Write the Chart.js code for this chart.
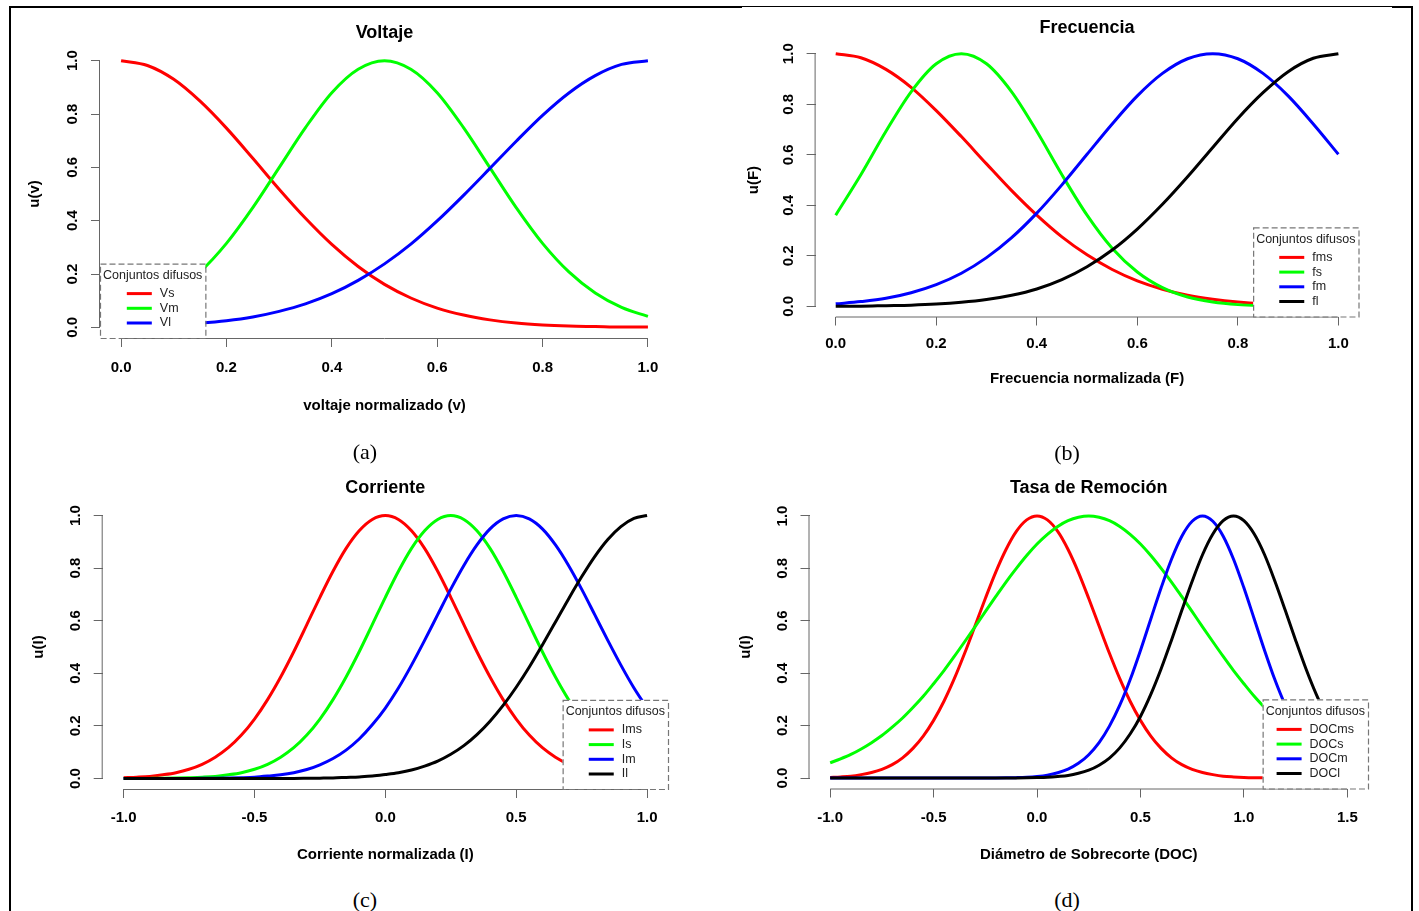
<!DOCTYPE html>
<html>
<head>
<meta charset="utf-8">
<title>Conjuntos difusos</title>
<script src="https://cdn.jsdelivr.net/npm/chart.js@4.4.1/dist/chart.umd.min.js"></script>
<style>
body { margin: 0; background: #fff; }
#page { position: relative; width: 1419px; height: 911px; overflow: hidden; background: #fff; }
canvas { position: absolute; }
.rule { position: absolute; background: #000; }
.caption { position: absolute; width: 80px; text-align: center; font: 22px "Liberation Serif", "Times New Roman", serif; line-height: 24px; color: #000; }
</style>
</head>
<body>
<div id="page">
  <div class="rule" style="left:9px;top:6px;width:2px;height:905px"></div>
  <div class="rule" style="left:9px;top:6px;width:733px;height:2px"></div>
  <div class="rule" style="left:742px;top:6px;width:650px;height:1px"></div>
  <div class="rule" style="left:1392px;top:6px;width:21px;height:2px"></div>
  <div class="rule" style="left:1411px;top:6px;width:2px;height:905px"></div>

  <canvas id="chartVolt" width="690" height="425" style="left:12px;top:0px"></canvas>
  <canvas id="chartFrec" width="690" height="395" style="left:715px;top:0px"></canvas>
  <canvas id="chartCorr" width="690" height="410" style="left:12px;top:460px"></canvas>
  <canvas id="chartDoc" width="690" height="410" style="left:715px;top:460px"></canvas>

  <div class="caption" style="left:325px;top:440px">(a)</div>
  <div class="caption" style="left:1027px;top:441px">(b)</div>
  <div class="caption" style="left:325px;top:888px">(c)</div>
  <div class="caption" style="left:1027px;top:888px">(d)</div>
</div>
<script>
// ticks del eje u(x), igual en los cuatro paneles
const yTicks = [0, 0.2, 0.4, 0.6, 0.8, 1.0];

// (a) Voltaje y (b) Frecuencia: eje normalizado 0..1
const xNorm = [0, 0.05, 0.1, 0.15, 0.2, 0.25, 0.3, 0.35, 0.4, 0.45, 0.5, 0.55, 0.6, 0.65, 0.7, 0.75, 0.8, 0.85, 0.9, 0.95, 1];
const normTicks = [0, 0.2, 0.4, 0.6, 0.8, 1.0];

const vs = [1, 0.982, 0.930, 0.848, 0.747, 0.634, 0.518, 0.409, 0.311, 0.228, 0.161, 0.110, 0.072, 0.046, 0.028, 0.016, 0.009, 0.005, 0.003, 0.001, 0.001];
const vm = [0.041, 0.075, 0.129, 0.208, 0.315, 0.449, 0.599, 0.749, 0.880, 0.968, 1, 0.968, 0.880, 0.749, 0.599, 0.449, 0.315, 0.208, 0.129, 0.075, 0.041];
const vl = [0.003, 0.006, 0.010, 0.016, 0.025, 0.039, 0.060, 0.088, 0.126, 0.176, 0.238, 0.312, 0.399, 0.495, 0.596, 0.698, 0.795, 0.879, 0.944, 0.986, 1];

const fms = [1, 0.984, 0.938, 0.867, 0.775, 0.672, 0.564, 0.458, 0.361, 0.275, 0.204, 0.146, 0.101, 0.068, 0.044, 0.028, 0.017, 0.010, 0.006, 0.003, 0.002];
const fs = [0.361, 0.521, 0.693, 0.849, 0.960, 1, 0.960, 0.849, 0.693, 0.521, 0.361, 0.230, 0.136, 0.074, 0.037, 0.017, 0.007, 0.003, 0.001, 0.0003, 0.0001];
const fm = [0.010, 0.019, 0.032, 0.054, 0.086, 0.131, 0.193, 0.272, 0.369, 0.481, 0.602, 0.722, 0.833, 0.922, 0.980, 1, 0.980, 0.922, 0.833, 0.722, 0.602];
const fl = [0.001, 0.001, 0.003, 0.005, 0.009, 0.016, 0.027, 0.044, 0.069, 0.106, 0.157, 0.223, 0.306, 0.404, 0.513, 0.629, 0.744, 0.846, 0.929, 0.982, 1];

// (c) Corriente: -1..1
const xCorr = [-1, -0.95, -0.9, -0.85, -0.8, -0.75, -0.7, -0.65, -0.6, -0.55, -0.5, -0.45, -0.4, -0.35, -0.3, -0.25, -0.2, -0.15, -0.1, -0.05,
  0, 0.05, 0.1, 0.15, 0.2, 0.25, 0.3, 0.35, 0.4, 0.45, 0.5, 0.55, 0.6, 0.65, 0.7, 0.75, 0.8, 0.85, 0.9, 0.95, 1];
const corrTicks = [-1.0, -0.5, 0.0, 0.5, 1.0];

const ims = [0.003, 0.005, 0.008, 0.014, 0.022, 0.035, 0.054, 0.081, 0.117, 0.165, 0.226, 0.300, 0.386, 0.482, 0.585, 0.689, 0.788, 0.875, 0.942, 0.985,
  1, 0.985, 0.942, 0.875, 0.788, 0.689, 0.585, 0.482, 0.386, 0.300, 0.226, 0.165, 0.117, 0.081, 0.054, 0.035, 0.022, 0.014, 0.008, 0.005, 0.003];
const is = [0.0001, 0.0002, 0.0004, 0.0007, 0.0014, 0.003, 0.005, 0.008, 0.014, 0.022, 0.035, 0.054, 0.081, 0.117, 0.165, 0.226, 0.300, 0.386, 0.482, 0.585,
  0.689, 0.788, 0.875, 0.942, 0.985, 1, 0.985, 0.942, 0.875, 0.788, 0.689, 0.585, 0.482, 0.386, 0.300, 0.226, 0.165, 0.117, 0.081, 0.054, 0.035];
const im = [0, 0, 0, 0.0001, 0.0001, 0.0003, 0.0005, 0.0009, 0.0017, 0.003, 0.005, 0.009, 0.014, 0.022, 0.034, 0.052, 0.076, 0.108, 0.150, 0.204,
  0.268, 0.344, 0.431, 0.525, 0.623, 0.720, 0.810, 0.888, 0.949, 0.987, 1, 0.987, 0.949, 0.888, 0.810, 0.720, 0.623, 0.525, 0.431, 0.344, 0.268];
const il = [0, 0, 0, 0, 0, 0, 0, 0, 0, 0, 0.0001, 0.0001, 0.0002, 0.0004, 0.0008, 0.0013, 0.002, 0.004, 0.006, 0.009,
  0.015, 0.022, 0.032, 0.047, 0.066, 0.092, 0.125, 0.167, 0.218, 0.278, 0.347, 0.424, 0.508, 0.595, 0.683, 0.767, 0.844, 0.909, 0.958, 0.989, 1];

// (d) Tasa de Remoción: -1..1.5
const xDoc = [-1, -0.95, -0.9, -0.85, -0.8, -0.75, -0.7, -0.65, -0.6, -0.55, -0.5, -0.45, -0.4, -0.35, -0.3, -0.25, -0.2, -0.15, -0.1, -0.05,
  0, 0.05, 0.1, 0.15, 0.2, 0.25, 0.3, 0.35, 0.4, 0.45, 0.5, 0.55, 0.6, 0.65, 0.7, 0.75, 0.8, 0.85, 0.9, 0.95,
  1, 1.05, 1.1, 1.15, 1.2, 1.25, 1.3, 1.35, 1.4, 1.45, 1.5];
const docTicks = [-1.0, -0.5, 0.0, 0.5, 1.0, 1.5];

const docms = [0.002, 0.004, 0.007, 0.013, 0.021, 0.033, 0.051, 0.077, 0.113, 0.160, 0.220, 0.293, 0.379, 0.476, 0.580, 0.685, 0.785, 0.872, 0.941, 0.985,
  1, 0.985, 0.941, 0.872, 0.785, 0.685, 0.580, 0.476, 0.379, 0.293, 0.220, 0.160, 0.113, 0.077, 0.051, 0.033, 0.021, 0.013, 0.007, 0.004,
  0.002, 0.001, 0.0007, 0.0003, 0.0002, 0.0001, 0, 0, 0, 0, 0];
const docs = [0.058, 0.073, 0.090, 0.111, 0.135, 0.162, 0.194, 0.229, 0.269, 0.312, 0.360, 0.410, 0.464, 0.520, 0.577, 0.635, 0.692, 0.748, 0.800, 0.849,
  0.893, 0.930, 0.960, 0.982, 0.995, 1, 0.995, 0.982, 0.960, 0.930, 0.893, 0.849, 0.800, 0.748, 0.692, 0.635, 0.577, 0.520, 0.464, 0.410,
  0.360, 0.312, 0.269, 0.229, 0.194, 0.162, 0.135, 0.111, 0.090, 0.073, 0.058];
const docm = [0, 0, 0, 0, 0, 0, 0, 0, 0, 0, 0, 0, 0, 0, 0, 0.0001, 0.0003, 0.0007, 0.0015, 0.003,
  0.006, 0.011, 0.020, 0.034, 0.056, 0.089, 0.135, 0.198, 0.278, 0.375, 0.487, 0.607, 0.726, 0.835, 0.923, 0.980, 1, 0.980, 0.923, 0.835,
  0.726, 0.607, 0.487, 0.375, 0.278, 0.198, 0.135, 0.089, 0.056, 0.034, 0.020];
const docl = [0, 0, 0, 0, 0, 0, 0, 0, 0, 0, 0, 0, 0, 0, 0, 0, 0, 0.0002, 0.0004, 0.0008,
  0.0016, 0.003, 0.006, 0.010, 0.018, 0.030, 0.049, 0.076, 0.115, 0.168, 0.235, 0.319, 0.417, 0.526, 0.640, 0.751, 0.852, 0.931, 0.982, 1,
  0.982, 0.931, 0.852, 0.751, 0.640, 0.526, 0.417, 0.319, 0.235, 0.168, 0.115];

const colores = ['#ff0000', '#00ff00', '#0000ff', '#000000'];

Chart.defaults.font.family = '"Liberation Sans", Arial, sans-serif';
Chart.defaults.color = '#000';

// ejes estilo R: la linea solo va del primer al ultimo tick, etiquetas del eje y giradas
const ejesR = {
  id: 'ejesR',
  beforeDatasetsDraw(chart) {
    const {ctx, chartArea, scales} = chart;
    const xs = scales.x.ticks.map(t => scales.x.getPixelForValue(t.value));
    const ys = scales.y.ticks.map(t => scales.y.getPixelForValue(t.value));
    ctx.save();
    ctx.strokeStyle = '#666';
    ctx.lineWidth = 1;
    ctx.beginPath();
    ctx.moveTo(xs[0], chartArea.bottom + 0.5);
    ctx.lineTo(xs[xs.length - 1], chartArea.bottom + 0.5);
    ctx.moveTo(chartArea.left - 0.5, ys[0]);
    ctx.lineTo(chartArea.left - 0.5, ys[ys.length - 1]);
    ctx.stroke();

    ctx.fillStyle = '#000';
    ctx.font = 'bold 15px "Liberation Sans", Arial, sans-serif';
    ctx.textAlign = 'center';
    ctx.textBaseline = 'middle';
    scales.y.ticks.forEach((t, i) => {
      ctx.save();
      ctx.translate(chartArea.left - 27, ys[i]);
      ctx.rotate(-Math.PI / 2);
      ctx.fillText(t.value.toFixed(1), 0, 0);
      ctx.restore();
    });
    ctx.restore();
  }
};

// leyenda "Conjuntos difusos" en una esquina del area de trazado
const conjuntos = {
  id: 'conjuntos',
  afterDatasetsDraw(chart, args, opts) {
    const {ctx, chartArea} = chart;
    const sets = chart.data.datasets;
    ctx.save();
    ctx.font = '12.5px "Liberation Sans", Arial, sans-serif';
    const titleW = ctx.measureText(opts.title).width;
    const labelW = Math.max(...sets.map(d => ctx.measureText(d.label).width));
    const blockW = 25 + 8 + labelW;
    const w = Math.max(titleW, blockW) + 6;
    const h = 30 + (sets.length - 1) * 14.7 + 15;
    const x = opts.side === 'left' ? chartArea.left : chartArea.right - w;
    const y = chartArea.bottom - h;

    ctx.fillStyle = '#fff';
    ctx.fillRect(x, y, w, h);
    ctx.strokeStyle = '#777';
    ctx.lineWidth = 1.2;
    ctx.setLineDash([6, 3]);
    ctx.strokeRect(x + 0.5, y + 0.5, w, h);
    ctx.setLineDash([]);

    ctx.fillStyle = '#222';
    ctx.textBaseline = 'middle';
    ctx.textAlign = 'center';
    ctx.fillText(opts.title, x + w / 2, y + 12);

    const bx = x + (w - blockW) / 2;
    ctx.textAlign = 'left';
    ctx.lineWidth = 3;
    sets.forEach((d, i) => {
      const ry = y + 30 + i * 14.7;
      ctx.strokeStyle = d.borderColor;
      ctx.beginPath();
      ctx.moveTo(bx, ry);
      ctx.lineTo(bx + 25, ry);
      ctx.stroke();
      ctx.fillStyle = '#222';
      ctx.fillText(d.label, bx + 33, ry);
    });
    ctx.restore();
  }
};

function crearPanel(id, p) {
  const datasets = p.series.map((ys, i) => ({
    label: p.labels[i],
    data: p.x.map((x, j) => ({x: x, y: ys[j]})),
    borderColor: colores[i],
    borderWidth: 3,
    pointRadius: 0,
    fill: false,
    cubicInterpolationMode: 'monotone',
    order: p.series.length - i
  }));

  return new Chart(document.getElementById(id), {
    type: 'line',
    data: {datasets: datasets},
    options: {
      responsive: false,
      animation: false,
      layout: {padding: {left: 0, right: p.padRight, top: p.padTop, bottom: 0}},
      plugins: {
        legend: {display: false},
        tooltip: {enabled: false},
        title: {
          display: true,
          text: p.title,
          fullSize: false,
          font: {size: 18, weight: 'bold'},
          padding: {top: p.titleTop, bottom: p.titleGap}
        },
        conjuntos: {side: p.legendSide, title: 'Conjuntos difusos'}
      },
      scales: {
        x: {
          type: 'linear',
          min: p.xMin,
          max: p.xMax,
          afterBuildTicks: s => { s.ticks = p.xTicks.map(v => ({value: v})); },
          afterFit: s => { s.height = p.xHeight; },
          border: {display: false},
          grid: {drawOnChartArea: false, drawTicks: true, tickLength: 9, color: '#666'},
          ticks: {
            padding: p.xLabelPad,
            autoSkip: false,
            maxRotation: 0,
            font: {size: 15, weight: 'bold'},
            callback: v => Number(v).toFixed(1)
          },
          title: {display: true, text: p.xTitle, font: {size: 15, weight: 'bold'}, padding: {top: 0, bottom: p.xTitlePad}}
        },
        y: {
          type: 'linear',
          min: -0.04,
          max: 1.04,
          afterBuildTicks: s => { s.ticks = yTicks.map(v => ({value: v})); },
          afterFit: s => { s.width = p.yWidth; },
          border: {display: false},
          grid: {drawOnChartArea: false, drawTicks: true, tickLength: 9, color: '#666'},
          ticks: {display: false},
          title: {display: true, text: p.yTitle, font: {size: 15, weight: 'bold'}, padding: {top: p.yTitlePad, bottom: 0}}
        }
      }
    },
    plugins: [ejesR, conjuntos]
  });
}

crearPanel('chartVolt', {
  title: 'Voltaje', xTitle: 'voltaje normalizado (v)', yTitle: 'u(v)',
  x: xNorm, series: [vs, vm, vl], labels: ['Vs', 'Vm', 'Vl'],
  xMin: -0.04, xMax: 1.04, xTicks: normTicks, legendSide: 'left',
  padRight: 33, padTop: 10, titleTop: 12.2, titleGap: 6.2, yWidth: 88, xHeight: 87, xTitlePad: 10, xLabelPad: 12, yTitlePad: 14
});

crearPanel('chartFrec', {
  title: 'Frecuencia', xTitle: 'Frecuencia normalizada (F)', yTitle: 'u(F)',
  x: xNorm, series: [fms, fs, fm, fl], labels: ['fms', 'fs', 'fm', 'fl'],
  xMin: -0.04, xMax: 1.04, xTicks: normTicks, legendSide: 'right',
  padRight: 46.5, padTop: 5, titleTop: 12.2, titleGap: 4.8, yWidth: 100.6, xHeight: 78.5, xTitlePad: 7, xLabelPad: 9.5, yTitlePad: 30
});

crearPanel('chartCorr', {
  title: 'Corriente', xTitle: 'Corriente normalizada (I)', yTitle: 'u(I)',
  x: xCorr, series: [ims, is, im, il], labels: ['Ims', 'Is', 'Im', 'Il'],
  xMin: -1.08, xMax: 1.08, xTicks: corrTicks, legendSide: 'right',
  padRight: 34, padTop: 6, titleTop: 11.2, titleGap: 6.2, yWidth: 90.7, xHeight: 81, xTitlePad: 6, xLabelPad: 10.5, yTitlePad: 18
});

crearPanel('chartDoc', {
  title: 'Tasa de Remoción', xTitle: 'Diámetro de Sobrecorte (DOC)', yTitle: 'u(I)',
  x: xDoc, series: [docms, docs, docm, docl], labels: ['DOCms', 'DOCs', 'DOCm', 'DOCl'],
  xMin: -1.1, xMax: 1.6, xTicks: docTicks, legendSide: 'right',
  padRight: 37, padTop: 6, titleTop: 11.2, titleGap: 6.7, yWidth: 94.5, xHeight: 81.5, xTitlePad: 6, xLabelPad: 11, yTitlePad: 21.5
});
</script>
</body>
</html>
